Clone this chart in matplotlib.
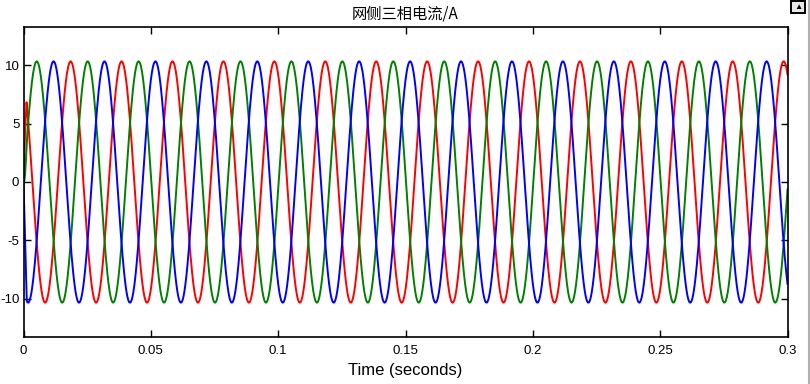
import numpy as np
import matplotlib
matplotlib.use('Agg')
import matplotlib.pyplot as plt
from matplotlib.patches import Rectangle

plt.rcParams['font.family'] = ['Liberation Sans', 'Noto Sans CJK SC', 'DejaVu Sans']
plt.rcParams['axes.unicode_minus'] = False

# values
t_end = 0.3           # s
freq = 50.0           # Hz
amplitude = [10.35, 10.35, 10.35]          # A, red / green / blue
peak_time = [0.0185, 0.0052, 0.0118]       # s, first positive peak of each phase
ramp_time = 0.0012    # s, start-up from zero
colors = ['#ff0000', '#008000', '#0000ff']
xticks = [0, 0.05, 0.1, 0.15, 0.2, 0.25, 0.3]
xticklabels = ['0', '0.05', '0.1', '0.15', '0.2', '0.25', '0.3']
yticks = [-10, -5, 0, 5, 10]

t = np.linspace(0, t_end, 30001)
env = np.clip(t / ramp_time, 0, 1)

fig = plt.figure(figsize=(8.1, 3.84), dpi=100)
ax = fig.add_axes([23.5 / 810, 1 - 337 / 384, 764 / 810, 310 / 384])

for a, tp, c in zip(amplitude, peak_time, colors):
    i = a * env * np.cos(2 * np.pi * freq * (t - tp))
    ax.plot(t, i, color=c, lw=1.4)

ax.set_xlim(0, t_end)
ax.set_ylim(-13.3, 13.3)
ax.set_xticks(xticks)
ax.set_xticklabels(xticklabels)
ax.set_yticks(yticks)
ax.tick_params(direction='in', length=5, width=1, top=True, right=True,
               labelsize=9.5, colors='black')
ax.tick_params(axis='x', pad=6)
ax.tick_params(axis='y', pad=3)
for s in ax.spines.values():
    s.set_linewidth(1.2)
ax.set_title('网侧三相电流/A', fontsize=11, pad=6,
             family=['Noto Sans CJK SC', 'DejaVu Sans'])
ax.set_xlabel('Time (seconds)', fontsize=12, labelpad=4)

# window chrome on the right
fig.add_artist(plt.Line2D([808.5 / 810, 808.5 / 810], [0, 1], color='#b0b0b0', lw=1.5))
fig.add_artist(Rectangle((791 / 810, 1 - 12.5 / 384), 14 / 810, 11 / 384,
                         facecolor='#e8e8e8', edgecolor='black', lw=1.4))
fig.text(798 / 810, 1 - 7.5 / 384, '▲', fontsize=6, ha='center', va='center')

fig.savefig('out.png', dpi=100)
